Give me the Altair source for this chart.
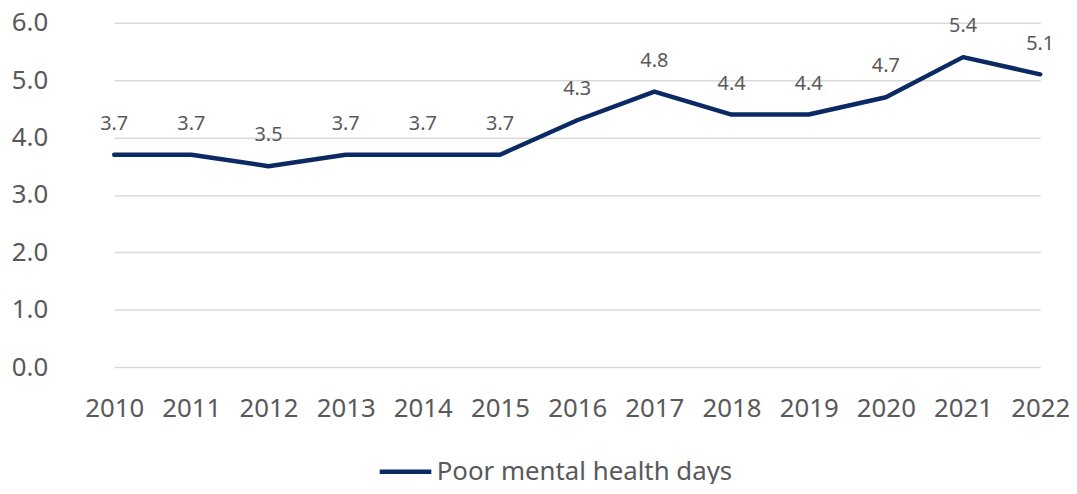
import altair as alt
import pandas as pd

years = ["2010", "2011", "2012", "2013", "2014", "2015", "2016",
         "2017", "2018", "2019", "2020", "2021", "2022"]
values = [3.7, 3.7, 3.5, 3.7, 3.7, 3.7, 4.3, 4.8, 4.4, 4.4, 4.7, 5.4, 5.1]
series_name = "Poor mental health days"

df = pd.DataFrame({"year": years, "value": values, "series": [series_name] * len(years)})

FONT = "Noto Sans"
TXT = "#595959"
NAVY = "#0b2a63"

x = alt.X("year:O", title=None, sort=years,
          scale=alt.Scale(type="point", range=[37, 970], padding=0),
          axis=alt.Axis(labelAngle=0, labelFontSize=26, labelColor=TXT, labelFont=FONT,
                        ticks=False, domain=False, grid=False, labelPadding=29))
y = alt.Y("value:Q", title=None,
          scale=alt.Scale(domain=[0, 6], nice=False),
          axis=alt.Axis(values=[0, 1, 2, 3, 4, 5, 6], format=".1f", labelFontSize=26,
                        labelColor=TXT, labelFont=FONT, ticks=False, domain=False,
                        grid=True, gridColor="#d9d9d9", gridWidth=1.5, labelPadding=30))

line = alt.Chart(df).mark_line(strokeWidth=4.5, strokeCap="round", strokeJoin="round").encode(
    x=x, y=y,
    color=alt.Color("series:N", title=None,
                    scale=alt.Scale(range=[NAVY]),
                    legend=alt.Legend(orient="none", legendX=302, legendY=424,
                                      symbolType="stroke", symbolSize=2704,
                                      symbolStrokeWidth=4.5, labelFontSize=26,
                                      labelFont=FONT, labelColor=TXT, labelOffset=3,
                                      labelLimit=500, padding=0))
)

labels = alt.Chart(df).mark_text(dy=-31, fontSize=20, font=FONT, color=TXT,
                                 baseline="middle").encode(
    x=x, y=y, text=alt.Text("value:Q", format=".1f")
)

chart = (line + labels).properties(
    width=999, height=347,
    background="white",
    autosize=alt.AutoSizeParams(type="none"),
    padding={"left": 70, "top": 13, "right": 0, "bottom": 116},
).configure_view(stroke=None)

chart.save("out.html", embed_options={"renderer": "svg", "actions": False})
